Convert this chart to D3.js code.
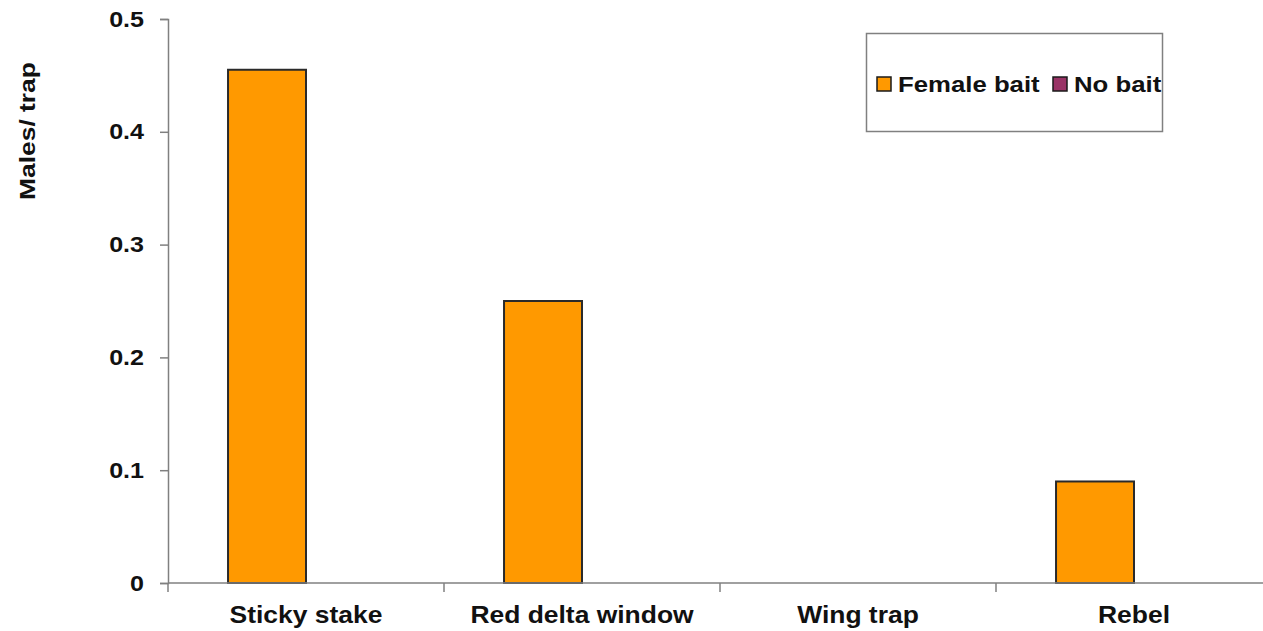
<!DOCTYPE html>
<html>
<head>
<meta charset="utf-8">
<script src="https://cdn.jsdelivr.net/npm/d3@7"></script>
<style>
  html, body { margin: 0; padding: 0; background: #fff; }
  svg { display: block; font-family: "Liberation Sans", Arial, sans-serif; }
</style>
</head>
<body>
<svg id="chart" width="1263" height="631"></svg>
<script>
// Trap types and catch per trap for each bait treatment
const categories = ["Sticky stake", "Red delta window", "Wing trap", "Rebel"];
const seriesNames = ["Female bait", "No bait"];
const femaleBait = [0.455, 0.25, 0, 0.09];
const noBait = [0, 0, 0, 0];
const yTicks = [0, 0.1, 0.2, 0.3, 0.4, 0.5];
const colors = ["#FF9900", "#993366"];

const svg = d3.select("#chart");
const W = 1263, H = 631;
const x0 = 168, x1 = 1272;
const yTop = 19, yBot = 583;

const x = d3.scaleBand().domain(categories).range([x0, x1]).paddingInner(0).paddingOuter(0);
const xs = d3.scaleBand().domain(seriesNames).range([0, x.bandwidth()]).paddingOuter(0.77).paddingInner(0);
const y = d3.scaleLinear().domain([0, 0.5]).range([yBot, yTop]);

const axisColor = "#808080";
const textColor = "#111";

// Bars
const rows = categories.map((c, i) => ({ cat: c, vals: [femaleBait[i], noBait[i]] }));
const g = svg.append("g");
rows.forEach(r => {
  r.vals.forEach((v, j) => {
    if (v <= 0) return;
    g.append("rect")
      .attr("x", x(r.cat) + xs(seriesNames[j]))
      .attr("y", y(v))
      .attr("width", xs.bandwidth())
      .attr("height", y(0) - y(v))
      .attr("fill", colors[j])
      .attr("stroke", "#2a2a2a")
      .attr("stroke-width", 2);
  });
});

// Y axis
const yAxis = svg.append("g").attr("transform", `translate(${x0},0)`)
  .call(d3.axisLeft(y).tickValues(yTicks).tickFormat(d => d === 0 ? "0" : d3.format(".1f")(d)).tickSizeOuter(0).tickSize(8));
yAxis.selectAll("path, line").attr("stroke", axisColor).attr("stroke-width", 1.5);
yAxis.selectAll("text")
  .attr("x", 0)
  .attr("transform", "translate(-24,0) scale(1.14,1)")
  .attr("font-size", 22).attr("font-weight", "bold").attr("fill", textColor)
  .attr("font-family", "Liberation Sans, Arial, sans-serif");

// X axis with ticks at category boundaries
const xAxisG = svg.append("g").attr("transform", `translate(0,${yBot})`);
xAxisG.append("line").attr("x1", x0).attr("x2", W).attr("y1", 0).attr("y2", 0)
  .attr("stroke", axisColor).attr("stroke-width", 1.5);
const bounds = categories.map(c => x(c)).concat([x1]);
xAxisG.selectAll("line.tick").data(bounds).enter().append("line")
  .attr("class", "tick")
  .attr("x1", d => d).attr("x2", d => d).attr("y1", 0).attr("y2", 9)
  .attr("stroke", axisColor).attr("stroke-width", 1.5);
xAxisG.selectAll("text").data(categories).enter().append("text")
  .attr("transform", d => `translate(${x(d) + x.bandwidth() / 2},40) scale(1.15,1)`)
  .attr("text-anchor", "middle")
  .attr("font-size", 23).attr("font-weight", "bold").attr("fill", textColor)
  .text(d => d);

// Y axis title
svg.append("text")
  .attr("transform", "translate(35,131) rotate(-90) scale(1.2,1)")
  .attr("text-anchor", "middle")
  .attr("font-size", 22).attr("font-weight", "bold").attr("fill", textColor)
  .text("Males/ trap");

// Legend
const legend = svg.append("g");
legend.append("rect").attr("x", 866.5).attr("y", 33.5).attr("width", 296).attr("height", 98)
  .attr("fill", "#fff").attr("stroke", axisColor).attr("stroke-width", 1.5);
svg.append("clipPath").attr("id", "legclip")
  .append("rect").attr("x", 866).attr("y", 33).attr("width", 296).attr("height", 99);
const items = legend.append("g").attr("clip-path", "url(#legclip)");
const itemX = [877, 1053];
seriesNames.forEach((s, j) => {
  items.append("rect").attr("x", itemX[j]).attr("y", 77).attr("width", 14).attr("height", 14)
    .attr("fill", colors[j]).attr("stroke", "#1a1a1a").attr("stroke-width", 1.5);
  items.append("text")
    .attr("transform", `translate(${itemX[j] + 21},92) scale(1.12,1)`)
    .attr("font-size", 23).attr("font-weight", "bold").attr("fill", textColor)
    .text(s);
});
</script>
</body>
</html>
